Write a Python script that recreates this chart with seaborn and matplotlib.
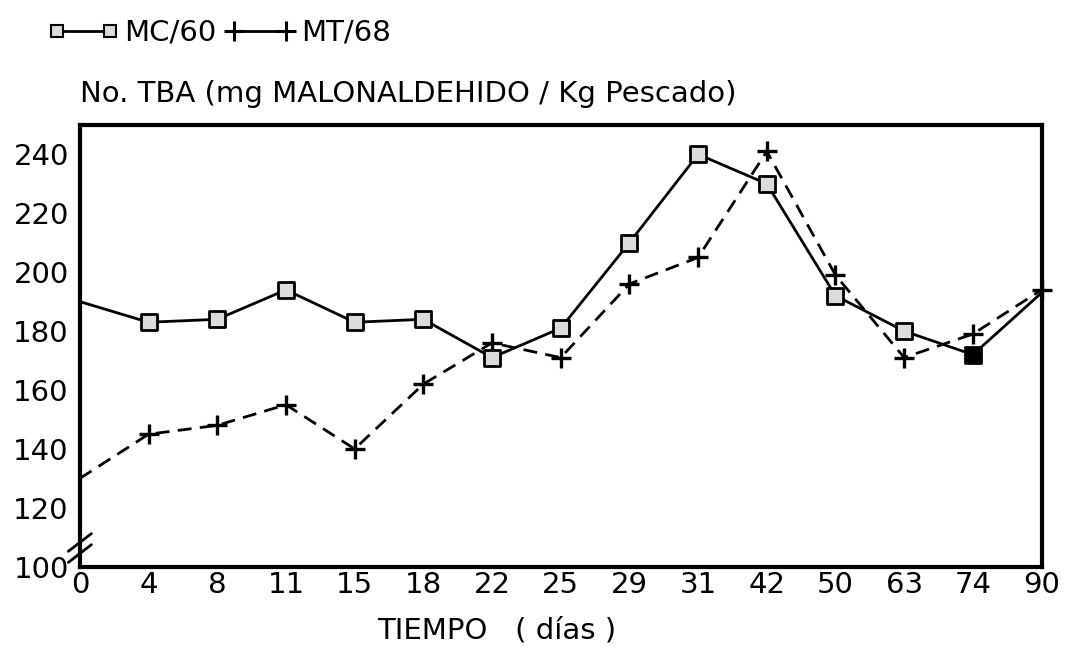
import pandas as pd
import matplotlib
matplotlib.use('Agg')
import matplotlib.pyplot as plt
from matplotlib.lines import Line2D
import seaborn as sns

dias = ['0', '4', '8', '11', '15', '18', '22', '25', '29', '31', '42', '50', '63', '74', '90']
mc60 = [190, 183, 184, 194, 183, 184, 171, 181, 210, 240, 230, 192, 180, 172, 193]
mt68 = [130, 145, 148, 155, 140, 162, 176, 171, 196, 205, 241, 199, 171, 179, 194]
yticks = [100, 120, 140, 160, 180, 200, 220, 240]

df = pd.DataFrame({'pos': range(len(dias)), 'dia': dias, 'MC/60': mc60, 'MT/68': mt68})

sns.set_style('white')
plt.rcParams['font.family'] = ['DejaVu Sans']
plt.rcParams['text.color'] = 'black'
plt.rcParams['axes.labelcolor'] = 'black'

fig = plt.figure(figsize=(10.65, 6.47), dpi=100)
ax = fig.add_axes([0.075, 0.124, 0.903, 0.683])

# lineas
sns.lineplot(data=df, x='pos', y='MT/68', ax=ax, color='black', linewidth=2,
             linestyle=(0, (5, 3)), legend=False)
sns.lineplot(data=df, x='pos', y='MC/60', ax=ax, color='black', linewidth=2,
             legend=False)

# marcadores (en el dia 0 no hay, en el 90 solo la cruz)
mt_pts = df[df['dia'] != '0']
mc_pts = df[~df['dia'].isin(['0', '90', '74'])]
mc_negro = df[df['dia'] == '74']
sns.scatterplot(data=mt_pts, x='pos', y='MT/68', ax=ax, marker='+', s=220,
                color='black', linewidth=2.4, zorder=4, legend=False, clip_on=False)
sns.scatterplot(data=mc_pts, x='pos', y='MC/60', ax=ax, marker='s', s=130,
                color='#dcdcdc', edgecolor='black', linewidth=2, zorder=5, legend=False)
sns.scatterplot(data=mc_negro, x='pos', y='MC/60', ax=ax, marker='s', s=130,
                color='black', edgecolor='black', linewidth=2, zorder=5, legend=False)

ax.set_xlim(0, len(dias) - 1)
ax.set_ylim(100, 250)
ax.set_xticks(range(len(dias)))
ax.set_xticklabels(dias)
ax.set_yticks(yticks)
ax.tick_params(axis='both', direction='in', length=10, width=2, labelsize=21,
               pad=4, colors='black')
ax.tick_params(axis='x', pad=3)
ax.tick_params(axis='y', pad=8)
for s in ax.spines.values():
    s.set_linewidth(3)
    s.set_color('black')

ax.set_xlabel('TIEMPO   ( días )', fontsize=21)
ax.xaxis.set_label_coords(0.433, -0.112)
ax.set_ylabel('')
fig.text(0.075, 0.855, 'No. TBA (mg MALONALDEHIDO / Kg Pescado)', fontsize=21,
         ha='left', va='center')

# marca de corte del eje
for dy in (0.03, 0.055):
    ax.plot([-0.012, 0.012], [dy - 0.02, dy + 0.02], transform=ax.transAxes,
            color='black', linewidth=2, clip_on=False)

handles = [
    Line2D([], [], color='black', linewidth=2, marker='s', markersize=9,
           markerfacecolor='#dcdcdc', markeredgecolor='black', markeredgewidth=1.5),
    Line2D([], [], color='black', linewidth=2, marker='+', markersize=14,
           markeredgewidth=2.2),
]
ax.legend(handles, ['MC/60', 'MT/68'], ncol=2, loc='lower left',
          bbox_to_anchor=(-0.045, 1.15), frameon=False, fontsize=21,
          numpoints=2, handlelength=2.4, handletextpad=0.2,
          columnspacing=0.3, borderaxespad=0)

fig.savefig('out.png', dpi=100)
